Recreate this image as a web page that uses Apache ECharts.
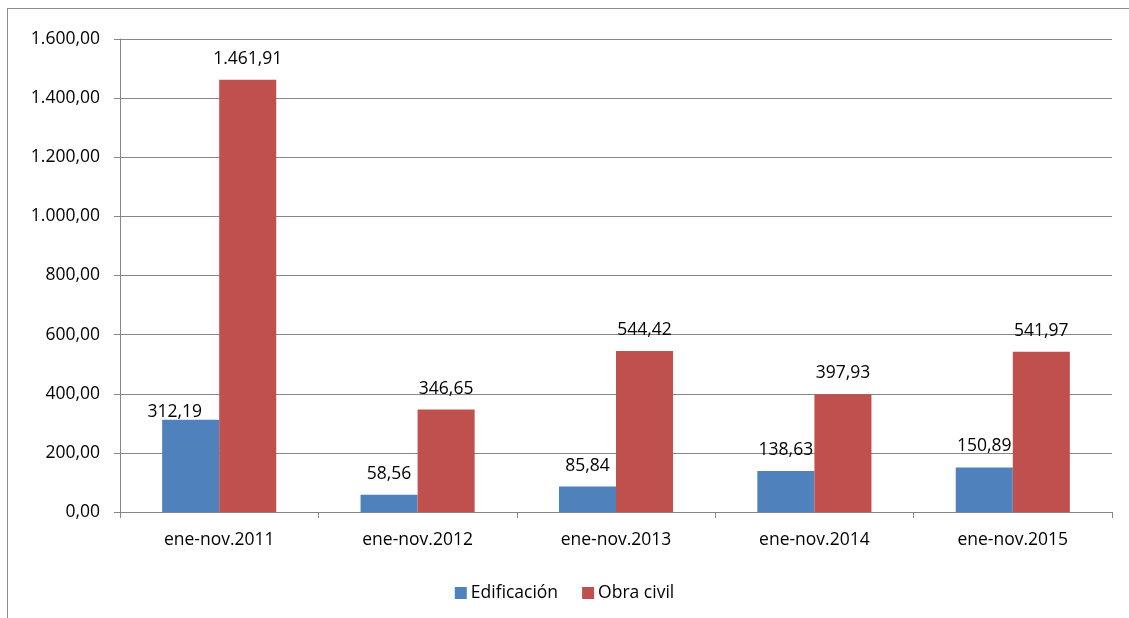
<!DOCTYPE html>
<html>
<head>
<meta charset="utf-8">
<script src="https://cdn.jsdelivr.net/npm/echarts@6/dist/echarts.min.js"></script>
<style>
html,body{margin:0;padding:0;background:#fff;}
#frame{position:absolute;left:7px;top:8px;width:1130px;height:620px;border-left:1px solid #8c8c8c;border-top:1px solid #8c8c8c;}
#chart{position:absolute;left:0;top:0;width:1129px;height:618px;}
</style>
</head>
<body>
<div id="frame"></div>
<div id="chart"></div>
<script>
var categories = ['ene-nov.2011','ene-nov.2012','ene-nov.2013','ene-nov.2014','ene-nov.2015'];
var edificacion = [312.19, 58.56, 85.84, 138.63, 150.89];
var obraCivil = [1461.91, 346.65, 544.42, 397.93, 541.97];
var yTicks = [0, 200, 400, 600, 800, 1000, 1200, 1400, 1600];

function fmt(v){
  var s = Number(v).toFixed(2).split('.');
  var i = s[0].replace(/\B(?=(\d{3})+(?!\d))/g, '.');
  return i + ',' + s[1];
}
var FONT = 'Open Sans';
var FS = 17.5;
var chart = echarts.init(document.getElementById('chart'), null, {renderer:'canvas'});

function buildData(arr, offsets){
  return arr.map(function(v, i){
    var o = {value: v};
    if (offsets[i]) o.label = {offset: offsets[i]};
    return o;
  });
}

chart.setOption({
  animation:false,
  textStyle:{fontFamily:FONT},
  grid:{left:120, right:17, top:39, bottom:106, containLabel:false},
  legend:{
    bottom:11, left:'center', itemWidth:12, itemHeight:12, itemGap:24,
    icon:'rect',
    textStyle:{fontFamily:FONT, fontSize:FS, color:'#000', padding:[0,0,0,-1]},
    data:['Edificación','Obra civil']
  },
  xAxis:{
    type:'category', data:categories,
    axisLine:{lineStyle:{color:'#868686', width:1}},
    axisTick:{show:true, alignWithLabel:false, length:6, lineStyle:{color:'#868686'}},
    axisLabel:{color:'#000', fontSize:FS, fontFamily:FONT, margin:19}
  },
  yAxis:{
    type:'value', min:0, max:1600, interval:200,
    axisLine:{show:true, lineStyle:{color:'#868686', width:1}},
    axisTick:{show:true, length:6, lineStyle:{color:'#868686'}},
    splitLine:{lineStyle:{color:'#868686', width:1}},
    axisLabel:{color:'#000', fontSize:FS, fontFamily:FONT, margin:20, formatter:function(v){return fmt(v);}}
  },
  series:[
    {
      name:'Edificación', type:'bar', barGap:'0%', barCategoryGap:'42.5%',
      itemStyle:{color:'#4F81BD'},
      data: buildData(edificacion, {0:[-16,13]}),
      label:{show:true, position:'top', distance:12, color:'#000', fontSize:FS, fontFamily:FONT, formatter:function(p){return fmt(p.value);}}
    },
    {
      name:'Obra civil', type:'bar', barGap:'0%', barCategoryGap:'42.5%',
      itemStyle:{color:'#C0504D'},
      data: buildData(obraCivil, {}),
      label:{show:true, position:'top', distance:12, color:'#000', fontSize:FS, fontFamily:FONT, formatter:function(p){return fmt(p.value);}}
    }
  ]
});
</script>
</body>
</html>
